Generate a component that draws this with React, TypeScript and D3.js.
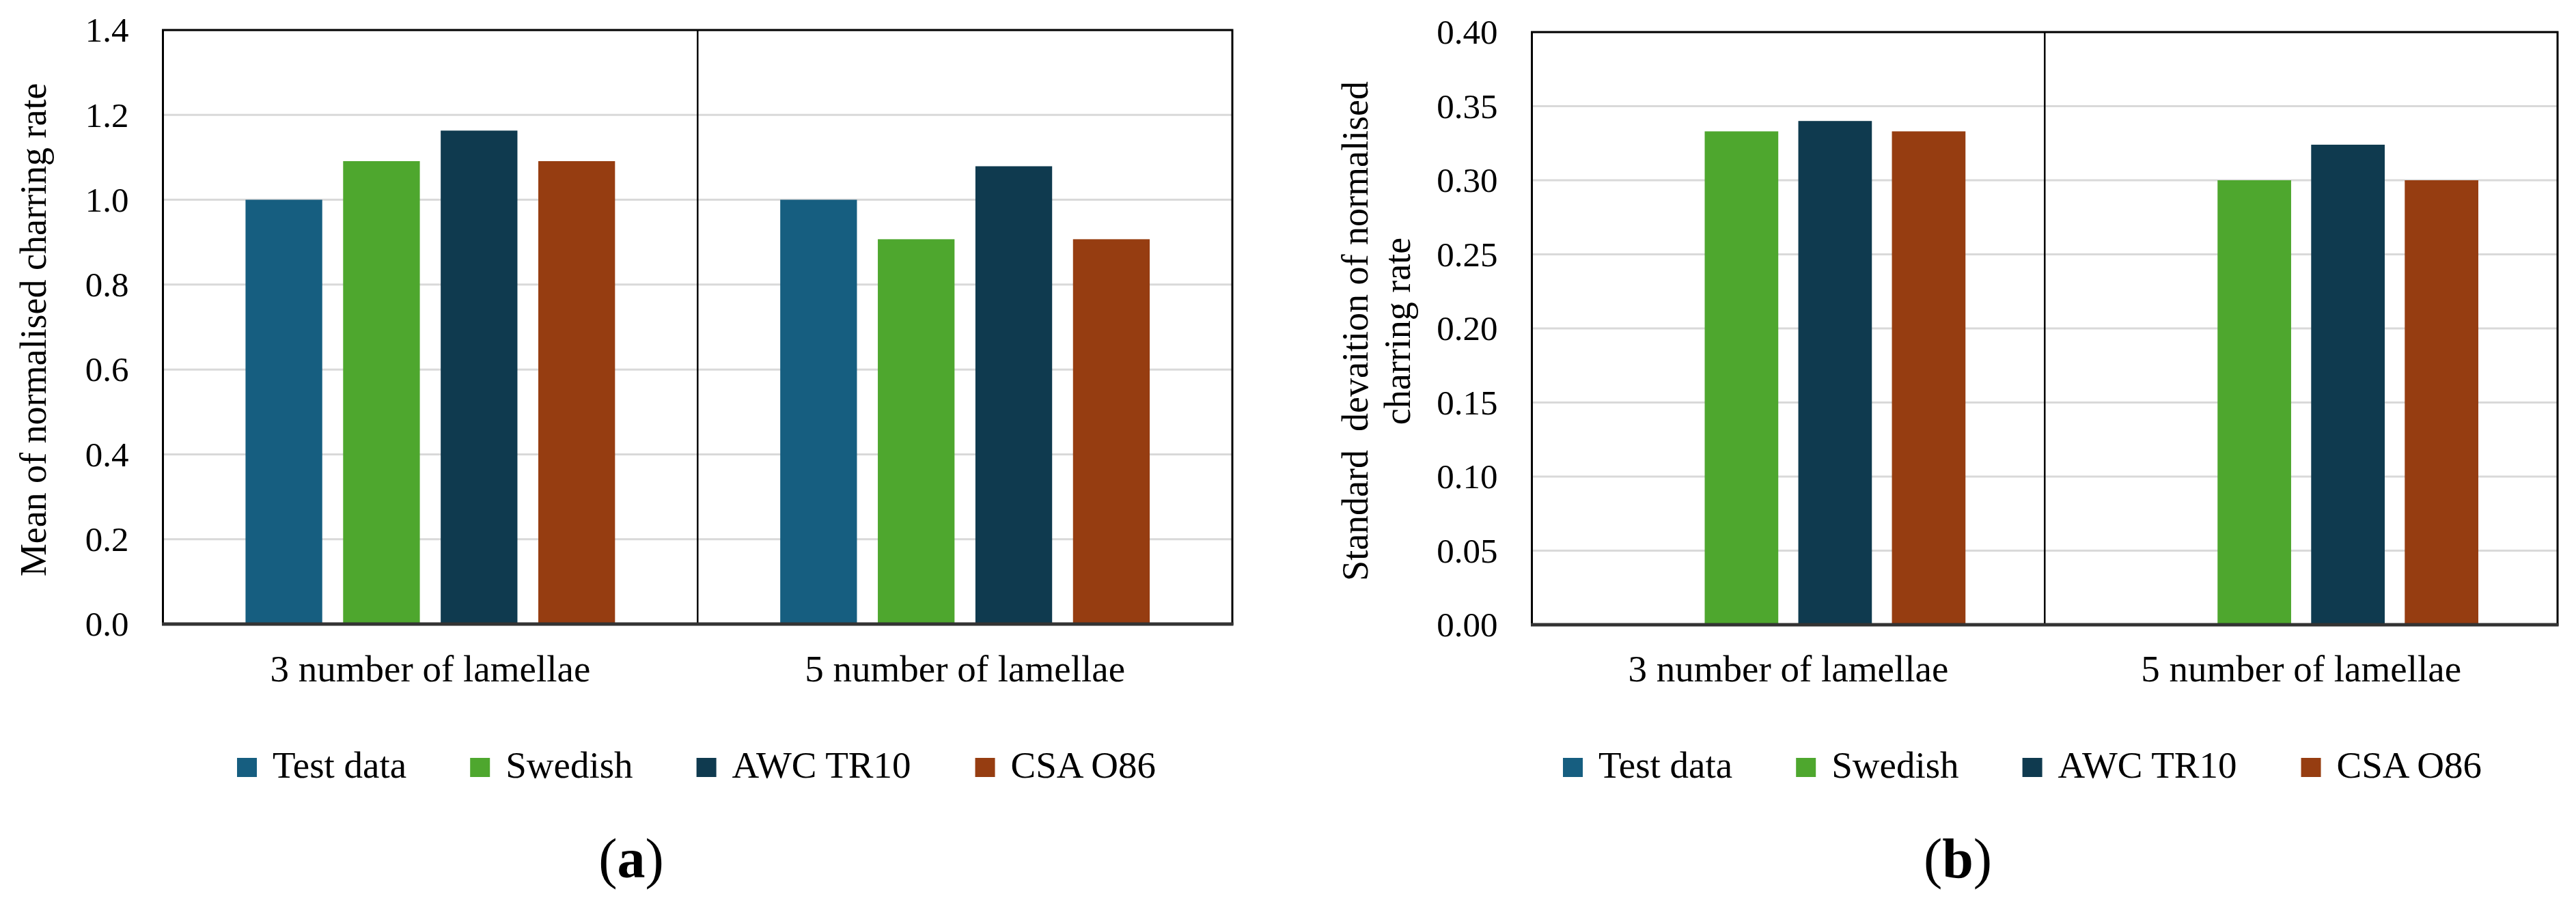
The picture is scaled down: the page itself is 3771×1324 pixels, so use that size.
import React, { useEffect } from "react";
import * as d3 from "d3";

// chart data
const categories = ["3 number of lamellae", "5 number of lamellae"];
const seriesNames = ["Test data", "Swedish", "AWC TR10", "CSA O86"];
const seriesColors = ["#165E80", "#4EA72E", "#0F3A4F", "#963D11"];

// mean of normalised charring rate, one array per series (3 lamellae, 5 lamellae)
const meanTest = [1.0, 1.0];
const meanSwedish = [1.091, 0.907];
const meanAwc = [1.163, 1.079];
const meanCsa = [1.091, 0.907];

// standard deviation (test data has none)
const sdTest = [0, 0];
const sdSwedish = [0.333, 0.3];
const sdAwc = [0.34, 0.324];
const sdCsa = [0.333, 0.3];

const meanTicks = [0, 0.2, 0.4, 0.6, 0.8, 1.0, 1.2, 1.4];
const sdTicks = [0, 0.05, 0.1, 0.15, 0.2, 0.25, 0.3, 0.35, 0.4];

const FONT = "'Liberation Serif', 'Times New Roman', serif";

function textWidth(txt: string, size: number) {
  const c = document.createElement("canvas").getContext("2d");
  if (!c) return txt.length * size * 0.45;
  c.font = `${size}px ${FONT}`;
  return c.measureText(txt).width;
}

type PanelProps = {
  left: number;
  right: number;
  top: number;
  bottom: number;
  yMax: number;
  ticks: number[];
  fmt: (v: number) => string;
  values: number[][];
  titleLines: string[];
  titleX: number;
  legendCenter: number;
  caption: string;
  captionX: number;
};

function Panel(p: PanelProps) {
  const y = d3.scaleLinear().domain([0, p.yMax]).range([p.bottom, p.top]);
  const x0 = d3
    .scaleBand()
    .domain(categories)
    .range([p.left, p.right])
    .paddingInner(0.309)
    .paddingOuter(0.1545);
  const x1 = d3
    .scaleBand()
    .domain(seriesNames)
    .range([0, x0.bandwidth()])
    .paddingInner(0.214);

  const midY = (p.top + p.bottom) / 2;

  // legend layout
  const sw = 29, gapT = 23, gapI = 93, legFs = 55;
  const widths = seriesNames.map((s) => textWidth(s, legFs));
  const total = widths.reduce((a, b) => a + b, 0) + seriesNames.length * (sw + gapT) + (seriesNames.length - 1) * gapI;
  let cursor = p.legendCenter - total / 2;
  const legendPos = widths.map((w) => {
    const x = cursor;
    cursor += sw + gapT + w + gapI;
    return x;
  });

  const divider = p.left + (p.right - p.left) / categories.length;

  return (
    <g>
      {/* gridlines */}
      {p.ticks.slice(1).map((t) => (
        <line key={t} x1={p.left} x2={p.right} y1={y(t)} y2={y(t)} stroke="#D9D9D9" strokeWidth={3} />
      ))}
      {/* bars */}
      {seriesNames.map((s, si) =>
        categories.map((c, ci) => {
          const v = p.values[si][ci];
          if (!v) return null;
          return (
            <rect
              key={s + c}
              x={(x0(c) as number) + (x1(s) as number)}
              y={y(v)}
              width={x1.bandwidth()}
              height={p.bottom - y(v)}
              fill={seriesColors[si]}
            />
          );
        })
      )}
      {/* frame */}
      <rect x={p.left} y={p.top} width={p.right - p.left} height={p.bottom - p.top} fill="none" stroke="#000" strokeWidth={3} />
      <line x1={divider} x2={divider} y1={p.top} y2={p.bottom} stroke="#000" strokeWidth={2.5} />
      <line x1={p.left - 1.5} x2={p.right + 1.5} y1={p.bottom} y2={p.bottom} stroke="#333" strokeWidth={5} />
      {/* y ticks */}
      {p.ticks.map((t) => (
        <text key={t} x={p.left - 50} y={y(t)} dy="0.34em" textAnchor="end" fontSize={51} fontFamily={FONT}>
          {p.fmt(t)}
        </text>
      ))}
      {/* y title */}
      {p.titleLines.map((line, i) => (
        <text
          key={i}
          transform={`translate(${p.titleX + i * 62},${midY + 4}) rotate(-90)`}
          textAnchor="middle"
          fontSize={54}
          fontFamily={FONT}
          style={{ whiteSpace: "pre" }}
        >
          {line}
        </text>
      ))}
      {/* category labels */}
      {categories.map((c) => (
        <text key={c} x={(x0(c) as number) + x0.bandwidth() / 2} y={998} textAnchor="middle" fontSize={55} fontFamily={FONT}>
          {c}
        </text>
      ))}
      {/* legend */}
      {seriesNames.map((s, i) => (
        <g key={s}>
          <rect x={legendPos[i]} y={1110} width={sw} height={28} fill={seriesColors[i]} />
          <text x={legendPos[i] + sw + gapT} y={1139} fontSize={legFs} fontFamily={FONT}>
            {s}
          </text>
        </g>
      ))}
      {/* caption */}
      <text x={p.captionX} y={1285} textAnchor="middle" fontSize={82} fontFamily={FONT}>
        (<tspan fontWeight="bold">{p.caption}</tspan>)
      </text>
    </g>
  );
}

export default function App() {
  useEffect(() => {
    document.body.style.margin = "0";
  }, []);

  const meanValues = [meanTest, meanSwedish, meanAwc, meanCsa];
  const sdValues = [sdTest, sdSwedish, sdAwc, sdCsa];

  return (
    <svg width={3771} height={1324} style={{ display: "block", background: "#fff" }}>
      <rect width={3771} height={1324} fill="#fff" />
      <Panel
        left={238.5}
        right={1804}
        top={44}
        bottom={914}
        yMax={1.4}
        ticks={meanTicks}
        fmt={d3.format(".1f")}
        values={meanValues}
        titleLines={["Mean of normalised charring rate"]}
        titleX={67}
        legendCenter={1021}
        caption="a"
        captionX={924}
      />
      <Panel
        left={2242.5}
        right={3744}
        top={47}
        bottom={915}
        yMax={0.4}
        ticks={sdTicks}
        fmt={d3.format(".2f")}
        values={sdValues}
        titleLines={["Standard  devaition of normalised", "charring rate"]}
        titleX={2002}
        legendCenter={2962}
        caption="b"
        captionX={2866}
      />
    </svg>
  );
}
